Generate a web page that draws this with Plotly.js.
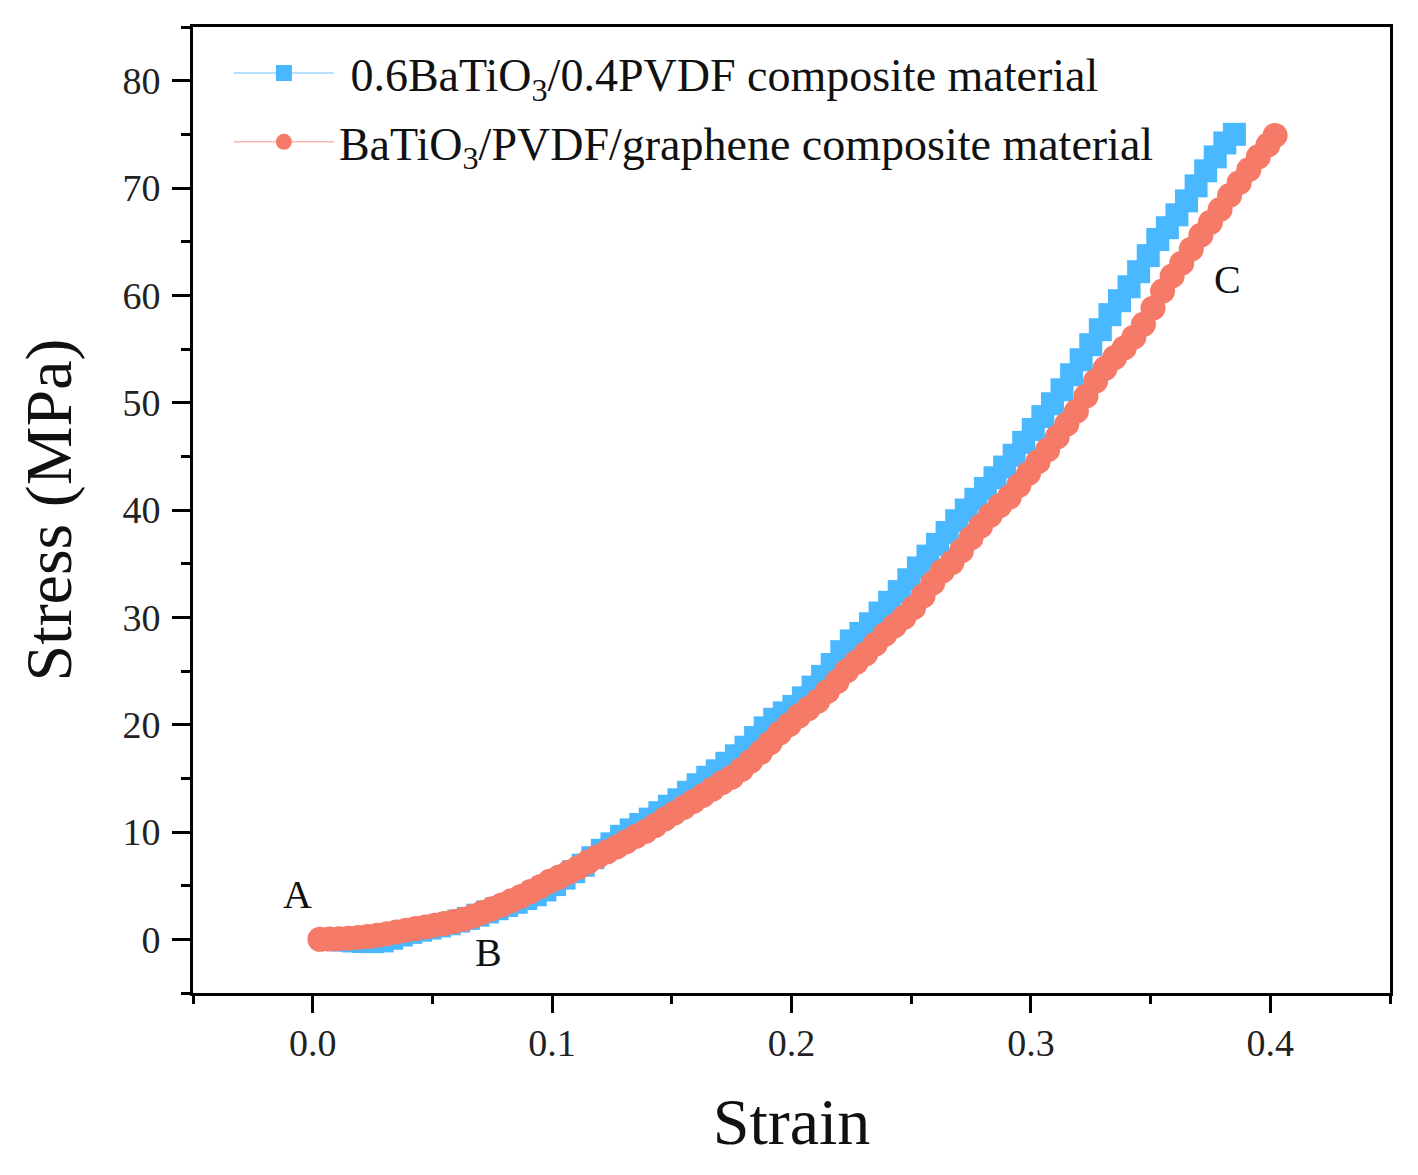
<!DOCTYPE html>
<html>
<head>
<meta charset="utf-8">
<script src="https://cdn.plot.ly/plotly-3.0.1.min.js"></script>
<style>html,body{margin:0;padding:0;background:#fff;}#chart{width:1418px;height:1175px;}</style>
</head>
<body>
<div id="chart"></div>
<script>
// Series 1: 0.6BaTiO3/0.4PVDF composite material (blue squares)
var blueStrain = [0.009,0.013,0.017,0.021,0.025,0.029,0.033,0.037,0.041,0.045,0.049,0.053,0.057,0.061,0.065,0.069,0.073,0.077,0.081,0.085,0.089,0.093,0.097,0.101,0.105,0.109,0.113,0.117,0.121,0.125,0.129,0.133,0.137,0.141,0.145,0.149,0.153,0.157,0.161,0.165,0.169,0.173,0.177,0.181,0.185,0.189,0.193,0.197,0.201,0.205,0.209,0.213,0.217,0.221,0.225,0.229,0.233,0.237,0.241,0.245,0.249,0.253,0.257,0.261,0.265,0.269,0.273,0.277,0.281,0.285,0.289,0.293,0.297,0.301,0.305,0.309,0.313,0.317,0.321,0.325,0.329,0.333,0.337,0.341,0.345,0.349,0.353,0.357,0.361,0.365,0.369,0.373,0.377,0.381,0.385];
var blueStress = [0.00,-0.08,-0.15,-0.20,-0.22,-0.15,0.10,0.40,0.65,0.85,1.05,1.25,1.45,1.70,1.95,2.25,2.55,2.85,3.15,3.45,3.80,4.15,4.60,5.10,5.70,6.30,6.90,7.60,8.30,8.90,9.60,10.20,10.70,11.20,11.80,12.40,13.00,13.70,14.40,15.10,15.70,16.40,17.10,17.90,18.80,19.70,20.50,21.10,21.70,22.50,23.50,24.50,25.60,26.80,27.80,28.50,29.40,30.40,31.40,32.40,33.50,34.60,35.70,36.80,37.90,39.00,40.00,41.00,42.00,43.00,44.00,45.10,46.30,47.50,48.70,49.90,51.20,52.60,54.00,55.40,56.80,58.20,59.50,60.80,62.20,63.70,65.20,66.30,67.50,68.80,70.20,71.60,72.90,74.20,75.00];

// Series 2: BaTiO3/PVDF/graphene composite material (red circles)
var redStrain = [0.003,0.007,0.011,0.015,0.019,0.023,0.027,0.031,0.035,0.039,0.043,0.047,0.051,0.055,0.059,0.063,0.067,0.071,0.075,0.079,0.083,0.087,0.091,0.095,0.099,0.103,0.107,0.111,0.115,0.119,0.123,0.127,0.131,0.135,0.139,0.143,0.147,0.151,0.155,0.159,0.163,0.167,0.171,0.175,0.179,0.183,0.187,0.191,0.195,0.199,0.203,0.207,0.211,0.215,0.219,0.223,0.227,0.231,0.235,0.239,0.243,0.247,0.251,0.255,0.259,0.263,0.267,0.271,0.275,0.279,0.283,0.287,0.291,0.295,0.299,0.303,0.307,0.311,0.315,0.319,0.323,0.327,0.331,0.335,0.339,0.343,0.347,0.351,0.355,0.359,0.363,0.367,0.371,0.375,0.379,0.383,0.387,0.391,0.395,0.399,0.402];
var redStress = [0.00,0.02,0.06,0.10,0.17,0.26,0.37,0.52,0.68,0.85,1.00,1.15,1.32,1.48,1.65,1.88,2.15,2.50,2.85,3.20,3.60,4.00,4.45,4.90,5.40,5.80,6.25,6.70,7.20,7.70,8.15,8.60,9.10,9.60,10.05,10.60,11.20,11.75,12.30,12.85,13.40,14.00,14.60,15.10,15.80,16.60,17.40,18.30,19.20,20.00,20.80,21.50,22.20,23.10,24.00,25.00,25.80,26.60,27.50,28.40,29.20,30.00,30.90,32.00,33.20,34.30,35.10,36.20,37.40,38.50,39.50,40.40,41.20,42.30,43.40,44.50,45.60,46.80,48.00,49.20,50.60,52.00,53.20,54.20,55.10,56.10,57.30,58.80,60.40,61.80,63.00,64.30,65.60,66.80,68.00,69.30,70.50,71.70,72.90,74.00,74.90];

var seriesNames = ['\u00A00.6BaTiO<sub>3</sub>/0.4PVDF composite material', 'BaTiO<sub>3</sub>/PVDF/graphene composite material'];
var xTickVals = [0.0, 0.1, 0.2, 0.3, 0.4];
var xTickText = ['0.0', '0.1', '0.2', '0.3', '0.4'];
var yTickVals = [0, 10, 20, 30, 40, 50, 60, 70, 80];
var pointLabels = ['A', 'B', 'C'];
var pointLabelX = [-0.0065, 0.0735, 0.382];
var pointLabelY = [4.2, -1.2, 61.5];

var FONT = 'Liberation Serif, Times New Roman, serif';
var BLUE = 'rgb(74,184,255)';
var RED = 'rgb(245,122,104)';

var traces = [
  {
    x: blueStrain, y: blueStress, name: seriesNames[0], type: 'scatter', mode: 'lines+markers',
    legendgroup: 'g1',
    line: {color: 'rgba(74,184,255,0.55)', width: 1.5},
    marker: {symbol: 'square', size: 23, color: BLUE, line: {width: 0}}
  },
  {
    x: redStrain, y: redStress, name: seriesNames[1], type: 'scatter', mode: 'lines+markers',
    legendgroup: 'g2',
    line: {color: 'rgba(245,122,104,0.55)', width: 1.5},
    marker: {symbol: 'circle', size: 25, color: RED, line: {width: 0}}
  }
];

var annotations = pointLabels.map(function (t, i) {
  return {x: pointLabelX[i], y: pointLabelY[i], xref: 'x', yref: 'y', text: t, showarrow: false,
          font: {family: FONT, size: 40, color: '#111'}};
});

var layout = {
  width: 1418, height: 1175,
  margin: {l: 193, r: 28, t: 27, b: 182},
  paper_bgcolor: '#fff', plot_bgcolor: '#fff',
  font: {family: FONT, color: '#111'},
  showlegend: true,
  legend: {x: 0.03, y: 0.99, xanchor: 'left', yanchor: 'top', bgcolor: 'rgba(0,0,0,0)',
           font: {family: FONT, size: 46, color: '#111'}, traceorder: 'grouped', tracegroupgap: 6, itemwidth: 100},
  xaxis: {
    range: [-0.05, 0.45], tickmode: 'array', tickvals: xTickVals, ticktext: xTickText,
    ticks: 'outside', ticklen: 17, tickwidth: 3, tickcolor: '#000',
    minor: {dtick: 0.05, tick0: 0, ticks: 'outside', ticklen: 8, tickwidth: 3, tickcolor: '#000'},
    showline: true, linewidth: 3, linecolor: '#000', mirror: true,
    showgrid: false, zeroline: false,
    tickfont: {family: FONT, size: 38, color: '#222'}, ticklabelstandoff: -3,
    title: {text: 'Strain', font: {family: FONT, size: 66, color: '#111'}, standoff: 36}
  },
  yaxis: {
    range: [-5, 85], tickmode: 'array', tickvals: yTickVals,
    ticks: 'outside', ticklen: 18, tickwidth: 3, tickcolor: '#000',
    minor: {dtick: 5, tick0: 0, ticks: 'outside', ticklen: 9, tickwidth: 3, tickcolor: '#000'},
    showline: true, linewidth: 3, linecolor: '#000', mirror: true,
    showgrid: false, zeroline: false,
    tickfont: {family: FONT, size: 38, color: '#222'}, ticklabelstandoff: 4,
    title: {text: '\u00A0\u00A0Stress (MPa)', font: {family: FONT, size: 66, color: '#111'}, standoff: 30}
  },
  annotations: annotations
};

Plotly.newPlot('chart', traces, layout, {displayModeBar: false, staticPlot: true});
</script>
</body>
</html>
